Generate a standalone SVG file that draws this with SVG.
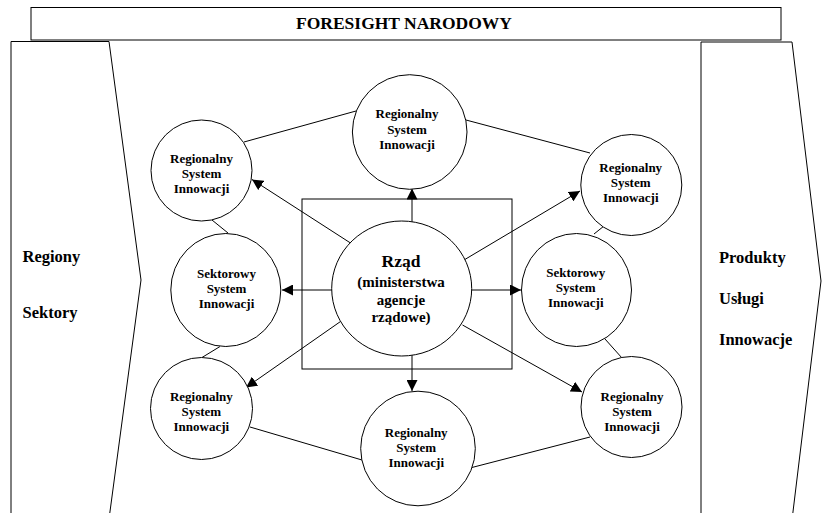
<svg xmlns="http://www.w3.org/2000/svg" width="824" height="513" viewBox="0 0 824 513">
<style>
  .shape { fill: #fff; stroke: #000; stroke-width: 1; }
  .line { fill: none; stroke: #000; stroke-width: 1; }
  .arrow { fill: none; stroke: #000; stroke-width: 1; marker-end: url(#ah); }
  text { font-family: "Liberation Serif", "Times New Roman", serif; font-weight: bold; fill: #000; }
  .lbl { font-size: 13px; text-anchor: middle; }
  .side { font-size: 16.5px; }
</style>
<defs>
  <marker id="ah" markerUnits="userSpaceOnUse" markerWidth="11" markerHeight="11" refX="11" refY="5.5" orient="auto">
    <path d="M0,0 L11,5.5 L0,11 z" fill="#000"/>
  </marker>
</defs>
<rect width="824" height="513" fill="#fff"/>

<g id="title">
  <rect class="shape" x="31" y="7.5" width="750" height="32.5"/>
  <text x="404" y="28.5" font-size="17.5" text-anchor="middle">FORESIGHT NARODOWY</text>
</g>

<g id="left-chevron">
  <polygon class="shape" points="11,41.5 109,41.5 141,280 109,519 11,519"/>
  <text class="side" x="22.5" y="262">Regiony</text>
  <text class="side" x="22.5" y="318">Sektory</text>
</g>

<g id="right-chevron">
  <polygon class="shape" points="701,42 792,42 821,281 792,520 701,520"/>
  <text class="side" x="719" y="263">Produkty</text>
  <text class="side" x="719" y="304">Usługi</text>
  <text class="side" x="719" y="345">Innowacje</text>
</g>

<g id="gov-box">
  <rect class="shape" x="302" y="199" width="210" height="170"/>
</g>

<g id="connectors">
  <line class="line" x1="244" y1="142" x2="356" y2="111"/>
  <line class="line" x1="466" y1="120" x2="590" y2="153"/>
  <line class="line" x1="212" y1="220" x2="228" y2="233"/>
  <line class="line" x1="220" y1="346.5" x2="202" y2="357.5"/>
  <line class="line" x1="250" y1="427" x2="362" y2="460"/>
  <line class="line" x1="468" y1="468.5" x2="590" y2="437"/>
  <line class="line" x1="605" y1="339" x2="622" y2="358"/>
  <line class="line" x1="604" y1="226" x2="594" y2="234"/>
  <line class="arrow" x1="412" y1="222" x2="412" y2="188.5"/>
  <line class="arrow" x1="412" y1="346" x2="412" y2="391"/>
  <line class="arrow" x1="341" y1="290" x2="282" y2="290"/>
  <line class="arrow" x1="472" y1="290" x2="521" y2="290"/>
  <line class="arrow" x1="350.5" y1="243" x2="252" y2="179.5"/>
  <line class="arrow" x1="464" y1="260" x2="580" y2="191"/>
  <line class="arrow" x1="340.5" y1="321.5" x2="246" y2="387.5"/>
  <line class="arrow" x1="462.5" y1="325" x2="582" y2="392"/>
</g>

<g id="gov">
  <ellipse class="shape" cx="401.7" cy="288.5" rx="70" ry="67.5"/>
  <text x="401" y="267" font-size="17.5" text-anchor="middle">Rząd</text>
  <text x="401" y="287" font-size="15" text-anchor="middle">(ministerstwa</text>
  <text x="401" y="304.5" font-size="15" text-anchor="middle">agencje</text>
  <text x="401" y="322" font-size="15" text-anchor="middle">rządowe)</text>
</g>

<g id="rsi-top">
  <circle class="shape" cx="409.7" cy="132" r="57.3"/>
  <text class="lbl" x="407" y="118">Regionalny</text>
  <text class="lbl" x="407" y="133.5">System</text>
  <text class="lbl" x="407" y="149">Innowacji</text>
</g>

<g id="rsi-top-left">
  <circle class="shape" cx="201.5" cy="170.5" r="50.5"/>
  <text class="lbl" x="201.5" y="163">Regionalny</text>
  <text class="lbl" x="201.5" y="178">System</text>
  <text class="lbl" x="201.5" y="193">Innowacji</text>
</g>

<g id="rsi-top-right">
  <circle class="shape" cx="631.3" cy="185" r="50.5"/>
  <text class="lbl" x="630.7" y="172">Regionalny</text>
  <text class="lbl" x="630.7" y="187">System</text>
  <text class="lbl" x="630.7" y="202">Innowacji</text>
</g>

<g id="ssi-left">
  <ellipse class="shape" cx="225.8" cy="290" rx="55" ry="56.5"/>
  <text class="lbl" x="226.5" y="278">Sektorowy</text>
  <text class="lbl" x="226.5" y="293">System</text>
  <text class="lbl" x="226.5" y="308">Innowacji</text>
</g>

<g id="ssi-right">
  <ellipse class="shape" cx="576.5" cy="290" rx="55" ry="56.5"/>
  <text class="lbl" x="575.7" y="276.5">Sektorowy</text>
  <text class="lbl" x="575.7" y="291.5">System</text>
  <text class="lbl" x="575.7" y="307">Innowacji</text>
</g>

<g id="rsi-bottom-left">
  <circle class="shape" cx="201.5" cy="408.5" r="51"/>
  <text class="lbl" x="201.3" y="401.3">Regionalny</text>
  <text class="lbl" x="201.3" y="416.3">System</text>
  <text class="lbl" x="201.3" y="431.3">Innowacji</text>
</g>

<g id="rsi-bottom-right">
  <circle class="shape" cx="631.5" cy="407" r="50.5"/>
  <text class="lbl" x="632" y="401.3">Regionalny</text>
  <text class="lbl" x="632" y="416.3">System</text>
  <text class="lbl" x="632" y="431.3">Innowacji</text>
</g>

<g id="rsi-bottom">
  <circle class="shape" cx="418" cy="448.5" r="57.3"/>
  <text class="lbl" x="416.2" y="437">Regionalny</text>
  <text class="lbl" x="416.2" y="452.3">System</text>
  <text class="lbl" x="416.2" y="467.3">Innowacji</text>
</g>
</svg>
